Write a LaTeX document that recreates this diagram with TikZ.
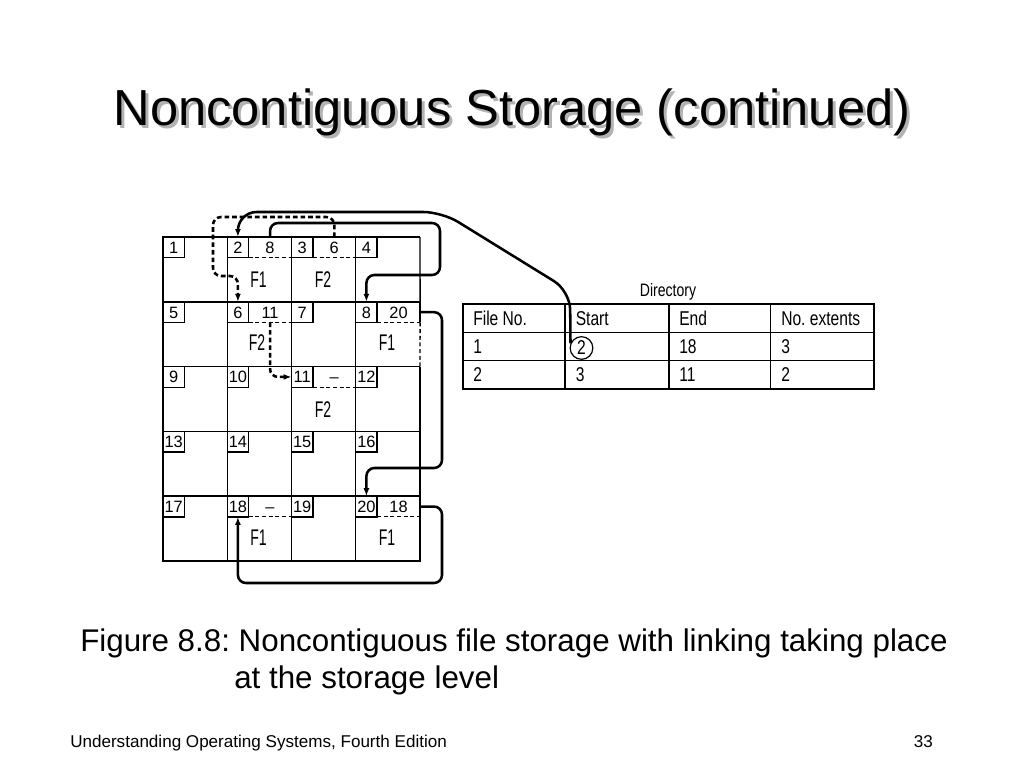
\documentclass[tikz,border=0pt]{standalone}
\usepackage{fontspec}
\setmainfont{Liberation Sans}
\newfontfamily\tblfont[FakeStretch=0.78]{Liberation Sans}
\newfontfamily\extfont[FakeStretch=0.62]{Liberation Sans}
\usetikzlibrary{arrows.meta}
\frenchspacing

\tikzset{
  gridline/.style={line width=1.1pt},
  numbox/.style={draw, line width=1pt, inner sep=0pt, outer sep=0pt, minimum width=16pt, minimum height=15.5pt, text height=8.8pt, text depth=0pt, anchor=north west, font=\fontsize{12.3}{12.3}\selectfont},
  linkbox/.style={inner sep=0pt, outer sep=0pt, minimum width=32.2pt, minimum height=15.5pt, text height=8.8pt, text depth=0pt, anchor=north west, font=\fontsize{12.3}{12.3}\selectfont},
  linkline/.style={dashed, line width=0.9pt, dash pattern=on 3pt off 2pt},
  extent/.style={font=\extfont\fontsize{17}{17}\selectfont},
  lnk/.style={line width=1.9pt, rounded corners=6pt, -{Latex[length=6pt,width=4.5pt]}},
  dlnk/.style={lnk, dash pattern=on 3.5pt off 2.2pt},
  tbltext/.style={anchor=west, inner sep=0pt, font=\tblfont\fontsize{15}{15}\selectfont},
}

\begin{document}
\begin{tikzpicture}[x=0.75pt,y=0.75pt,yscale=-1,xscale=1]
\useasboundingbox (0,0) rectangle (1024,768);

% Title
\node [text=black!30, font=\fontsize{38}{38}\selectfont] at (515,115) {Noncontiguous Storage (continued)};
\node (title) [font=\fontsize{38}{38}\selectfont] at (512,112) {Noncontiguous Storage (continued)};

% Storage blocks
\draw [gridline] (420,237) -- (163,237) -- (163,561) -- (420,561) -- (420,366.6) ;
\foreach \x in {227.25,291.5,355.75}
  \draw [gridline] (\x,237) -- (\x,561) ;
\foreach \y in {301.8,366.6,431.4,496.2}
  \draw [gridline] (163,\y) -- (420,\y) ;
\foreach \n in {1,...,20}{
  \pgfmathsetmacro\cx{163+64.25*mod(\n-1,4)}
  \pgfmathsetmacro\cy{237+64.8*int((\n-1)/4)}
  \node [numbox] (b\n) at (\cx,\cy) {\n};
}

% Link fields
\node [linkbox] (l2) at (b2.north east) {8};
\node [linkbox] (l3) at (b3.north east) {6};
\node [linkbox] (l6) at (b6.north east) {11};
\node [linkbox] (l8) at (b8.north east) {20};
\node [linkbox] (l11) at (b11.north east) {--};
\node [linkbox] (l18) at (b18.north east) {--};
\node [linkbox] (l20) at (b20.north east) {18};
\foreach \l in {l2,l3,l6,l8,l11,l18,l20}
  \draw [linkline] (\l.south west) -- (\l.south east) ;
\draw [gridline] (420,237) -- (l8.north east) ;
\draw [gridline, dashed, dash pattern=on 3pt off 2pt] (l8.south east) -- (420,366.6) ;
\draw [gridline] (l8.north east) -- (l8.south east) ;

% Extent names
\node (e2) [extent] at (258.5,280) {F1};
\node (e3) [extent] at (323,280) {F2};
\node (e6) [extent] at (257,343) {F2};
\node (e8) [extent] at (387,343) {F1};
\node (e11) [extent] at (323,410) {F2};
\node (e18) [extent] at (258.5,538) {F1};
\node (e20) [extent] at (387,538) {F1};

% Directory
\node (dir) [font=\tblfont\fontsize{13.5}{13.5}\selectfont] at (668,292) {Directory};
\draw [line width=1.5pt] (463.3,304) rectangle (874,389) ;
\foreach \x in {565,669,770.7}
  \draw [line width=1.1pt] (\x,304) -- (\x,389) ;
\foreach \y in {332.7,360.7}
  \draw [line width=1.1pt] (463.3,\y) -- (874,\y) ;
\node (hFile) [tbltext] at (473,318.3) {File No.};
\node (hStart) [tbltext] at (575.5,318.3) {Start};
\node (hEnd) [tbltext] at (679,318.3) {End};
\node (hExt) [tbltext] at (781,318.3) {No. extents};
\node (f1) [tbltext] at (473,347) {1};
\node (c2) [circle, draw, line width=0.9pt, inner sep=0pt, minimum size=17pt, font=\tblfont\fontsize{15}{15}\selectfont] at (581.5,348) {2};
\node (e1) [tbltext] at (679,347) {18};
\node (x1) [tbltext] at (781,347) {3};
\node (f2) [tbltext] at (473,375) {2};
\node (s2) [tbltext] at (575.5,375) {3};
\node (end2) [tbltext] at (679,375) {11};
\node (x2) [tbltext] at (781,375) {2};

% Links
\draw [lnk, rounded corners=14pt] (c2.157) -- (570,291) -- (442,212) -- (b2.north |- 0,212) -- (b2.north) ;
\draw [lnk] (l2.north) |- (440,223) |- (b8.north |- 0,275) -- (b8.north) ;
\draw [lnk] (l8.east) -| (442,468) -| (b20.north) ;
\draw [lnk] (l20.east) -| (442,583) -| (b18.south) ;
\draw [dlnk] (l3.north) |- (213,217) |- (b6.north |- 0,276) -- (b6.north) ;
\draw [dlnk] (l6.south) |- (b11.west) ;

% Caption
\node (cap1) [anchor=base west, inner sep=0pt, font=\fontsize{23.5}{23.5}\selectfont] at (80,651) {Figure 8.8: Noncontiguous file storage with linking taking place};
\node (cap2) [anchor=base west, inner sep=0pt, font=\fontsize{23.5}{23.5}\selectfont] at (234,688) {at the storage level};

% Footer
\node (foot) [anchor=base west, inner sep=0pt, font=\fontsize{12.8}{12.8}\selectfont] at (70,747) {Understanding Operating Systems, Fourth Edition};
\node (page) [anchor=base east, inner sep=0pt, font=\fontsize{12.8}{12.8}\selectfont] at (933,747) {33};

\end{tikzpicture}
\end{document}
